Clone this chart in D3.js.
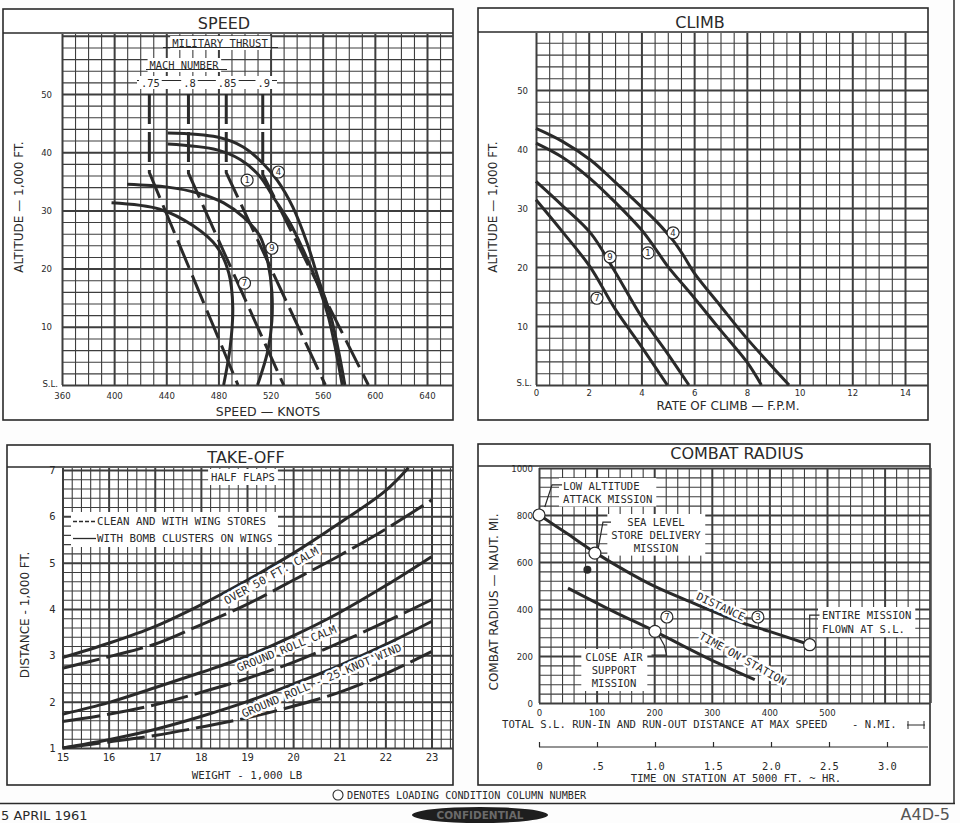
<!DOCTYPE html>
<html>
<head>
<meta charset="utf-8">
<script src="https://cdn.jsdelivr.net/npm/d3@7"></script>
<style>
  body { margin: 0; background: #fff; }
  svg { display: block; }
  .sans { font-family: "DejaVu Sans", sans-serif; }
  .cond { font-family: "DejaVu Sans Condensed", "DejaVu Sans", sans-serif; }
  .mono { font-family: "DejaVu Sans Mono", monospace; }
  .halo { paint-order: stroke; stroke: #fff; stroke-width: 5px; stroke-linejoin: round; }
</style>
</head>
<body>
<svg id="chart"></svg>
<script>
// ---- tick labels
var speedTicks = [360, 400, 440, 480, 520, 560, 600, 640];
var altTicks = [0, 10, 20, 30, 40, 50];
var climbTicks = [0, 2, 4, 6, 8, 10, 12, 14];
var weightTicks = [15, 16, 17, 18, 19, 20, 21, 22, 23];
var distTicks = [1, 2, 3, 4, 5, 6, 7];
var radiusTicks = [0, 200, 400, 600, 800, 1000];
var runTicks = [0, 100, 200, 300, 400, 500];
var timeTicks = [0, 0.5, 1, 1.5, 2, 2.5, 3];
var timeLabels = ["0", ".5", "1.0", "1.5", "2.0", "2.5", "3.0"];

// ---- SPEED: military thrust, [knots, 1000 ft]
var speedCond4 = [[441, 43.3], [479, 42.6], [499, 40.9], [514, 38.1], [525, 35.2], [537, 30.6], [548, 24.4], [557, 18], [566, 12], [572, 6], [577, 0]];
var speedCond1 = [[441, 41.4], [479, 40.4], [497, 38.7], [512, 35.8], [522, 32.3], [535, 27.8], [545, 23.2], [555, 18], [564, 12], [570, 6], [575, 0]];
var speedCond9 = [[410, 34.5], [441, 34], [464, 33], [484, 31.3], [499, 28.9], [512, 25.5], [518, 21], [521, 16], [521, 11], [518, 6], [513, 2], [510, 0]];
var speedCond7 = [[398, 31.3], [435, 30.2], [461, 27.3], [479, 23.7], [488, 19.2], [491, 13.4], [489, 6.5], [484, 0]];
// mach number lines: speed above tropopause, break altitude, speed at S.L.
var machNames = [".75", ".8", ".85", ".9"];
var machTopSpeed = [427, 457, 486, 514];
var machBreakAlt = [36.5, 36.4, 36.5, 36.2];
var machSLSpeed = [495, 530, 562, 595];
var machTopAlt = 50;
var speedLabels = [["1", 502, 35.2], ["4", 526, 36.6], ["9", 521, 23.5], ["7", 500, 17.5]];

// ---- CLIMB: [rate, 1000 ft]
var climb4 = [[0, 43.5], [1, 41.3], [2.08, 38.1], [3, 34.4], [4, 30.2], [4.7, 27.1], [5.2, 24.5], [5.6, 21.9], [6, 19.0], [7, 13.4], [8, 7.9], [9.6, 0]];
var climb1 = [[0, 41], [1, 38.6], [2, 35.2], [3, 31], [4, 26.3], [4.5, 23.3], [5, 20.1], [6, 14.8], [7, 9.3], [8, 3.9], [8.55, 0]];
var climb9 = [[0, 34.5], [1, 30.4], [2.08, 25.7], [2.96, 19.5], [4, 11.6], [4.98, 5.4], [5.8, 0]];
var climb7 = [[0, 31.4], [1, 26], [2.04, 20.1], [3, 12.9], [4, 6.5], [4.98, 0]];
var climbLabels = [["4", 5.2, 25.8], ["1", 4.25, 22.4], ["9", 2.81, 21.7], ["7", 2.31, 14.7]];

// ---- TAKE-OFF: [weight 1000 lb, distance 1000 ft]
var over50Bombs = [[15, 2.95], [16, 3.26], [17, 3.62], [18, 4.09], [19, 4.62], [20, 5.2], [21, 5.85], [22, 6.55], [22.5, 7.05]];
var over50Clean = [[15, 2.72], [16, 2.97], [17, 3.24], [18, 3.66], [19, 4.1], [20, 4.62], [21, 5.15], [22, 5.72], [23, 6.35]];
var rollCalmBombs = [[15, 1.73], [16, 1.98], [17, 2.3], [18, 2.63], [19, 2.98], [20, 3.42], [21, 3.92], [22, 4.5], [23, 5.13]];
var rollCalmClean = [[15, 1.57], [16, 1.73], [17, 1.93], [18, 2.2], [19, 2.5], [20, 2.85], [21, 3.27], [22, 3.72], [23, 4.2]];
var roll25Bombs = [[15, 1.0], [16, 1.18], [17, 1.4], [18, 1.68], [19, 2.0], [20, 2.38], [21, 2.78], [22, 3.23], [23, 3.73]];
var roll25Clean = [[15, 1.0], [16, 1.13], [17, 1.27], [18, 1.45], [19, 1.65], [20, 1.9], [21, 2.2], [22, 2.6], [23, 3.08]];

// ---- COMBAT RADIUS
var radiusDistance = [[0, 801], [47.5, 723], [97, 641], [152, 560], [201, 496], [267, 426], [354, 340], [400, 305], [470, 248]];
var radiusTime = [[0.25, 489], [0.64, 390], [1.0, 305], [1.25, 241], [1.51, 177], [1.86, 99]];
var missionPoints = [[0, 800], [97, 638], [470, 248]];
var closeAirPoint = [1.0, 305];
var extraPoint = [84, 567];

var W = 960, H = 823;
var ink = "#2a2a2a", gridInk = "#3e3e3e";

var svg = d3.select("#chart").attr("width", W).attr("height", H);
svg.append("rect").attr("width", W).attr("height", H).attr("fill", "#fdfdfd");

// ---- helpers
function frame(b, barY, title, tx, ty) {
  svg.append("rect")
    .attr("x", b[0]).attr("y", b[1])
    .attr("width", b[2] - b[0]).attr("height", b[3] - b[1])
    .attr("fill", "#fff").attr("stroke", ink).attr("stroke-width", 1.6);
  svg.append("line")
    .attr("x1", b[0]).attr("x2", b[2]).attr("y1", barY).attr("y2", barY)
    .attr("stroke", ink).attr("stroke-width", 1.6);
  svg.append("text").attr("class", "sans")
    .attr("x", tx).attr("y", ty)
    .attr("text-anchor", "middle").attr("font-size", 16).attr("fill", ink)
    .text(title);
}

function isMult(d, m) {
  var r = d / m;
  return Math.abs(r - Math.round(r)) < 1e-6;
}

function grid(x, y, xs, ys, xMaj, yMaj, left, right, top, bottom) {
  var g = svg.append("g");
  g.append("g")
    .attr("transform", "translate(0," + top + ")")
    .call(d3.axisBottom(x).tickValues(xs).tickSize(bottom - top).tickFormat(""))
    .call(function(s) { s.select(".domain").remove(); })
    .selectAll("line")
    .attr("stroke", gridInk)
    .attr("stroke-width", function(d) { return isMult(d, xMaj) ? 2 : 1.1; });
  g.append("g")
    .attr("transform", "translate(" + left + ",0)")
    .call(d3.axisRight(y).tickValues(ys).tickSize(right - left).tickFormat(""))
    .call(function(s) { s.select(".domain").remove(); })
    .selectAll("line")
    .attr("stroke", gridInk)
    .attr("stroke-width", function(d) { return isMult(d, yMaj) ? 2 : 1.1; });
  return g;
}

function tickRow(axis, tx, ty, cls, size) {
  var g = svg.append("g")
    .attr("transform", "translate(" + tx + "," + ty + ")")
    .call(axis.tickSize(0))
    .call(function(s) { s.select(".domain").remove(); s.selectAll("line").remove(); })
    .attr("font-family", null).attr("font-size", null)
    .attr("class", cls).style("font-size", size + "px");
  g.selectAll("text").attr("fill", ink);
  return g;
}

function curve(pts, x, y, dash, width, kind) {
  var line = d3.line()
    .x(function(d) { return x(d[0]); })
    .y(function(d) { return y(d[1]); })
    .curve(kind || d3.curveCatmullRom.alpha(0.5));
  svg.append("path")
    .datum(pts)
    .attr("d", line)
    .attr("fill", "none")
    .attr("stroke", ink)
    .attr("stroke-width", width || 3)
    .attr("stroke-linecap", "butt")
    .attr("stroke-dasharray", dash || null);
}

function circNum(cx, cy, n, r) {
  svg.append("circle").attr("cx", cx).attr("cy", cy).attr("r", r || 6)
    .attr("fill", "#fff").attr("stroke", ink).attr("stroke-width", 1.2);
  if (n) {
    svg.append("text").attr("class", "sans")
      .attr("x", cx).attr("y", cy).attr("dy", "0.36em")
      .attr("text-anchor", "middle").attr("font-size", 8.5).attr("fill", ink)
      .text(n);
  }
}

function whiteBack(sel, padX, padY) {
  var node = sel.node(), b = node.getBBox();
  d3.select(node.parentNode).insert("rect", function() { return node; })
    .attr("x", b.x - padX).attr("y", b.y - padY)
    .attr("width", b.width + 2 * padX).attr("height", b.height + 2 * padY)
    .attr("fill", "#fff");
}

function label(x, y, txt, cls, size, anchor, rot) {
  var t = svg.append("text").attr("class", cls)
    .attr("x", x).attr("y", y)
    .attr("font-size", size).attr("fill", ink)
    .attr("text-anchor", anchor || "middle")
    .text(txt);
  if (rot) t.attr("transform", "rotate(" + rot + "," + x + "," + y + ")");
  return t;
}

var fmtInt = d3.format("d");

// =================== SPEED ===================
frame([3, 9, 453, 420], 33, "SPEED", 224, 29);
var sx = d3.scaleLinear().domain([360, 640]).range([62, 427]);
var sy = d3.scaleLinear().domain([0, 50]).range([385, 94]);
grid(sx, sy, d3.range(360, 651, 10), d3.range(0, 61, 2), 40, 10, 62, 453, 34, 385);

// header labels with white backing
var mt = label(220, 47, "MILITARY THRUST", "mono", 10.6);
whiteBack(mt, 2, 1);
svg.append("line").attr("x1", 163).attr("x2", 278).attr("y1", 47.5).attr("y2", 47.5).attr("stroke", ink).attr("stroke-width", 1.2);
mt.raise();
var mn = label(184, 69, "MACH NUMBER", "mono", 10.4);
whiteBack(mn, 2, 1);
svg.append("line").attr("x1", 146).attr("x2", 227).attr("y1", 69.5).attr("y2", 69.5).attr("stroke", ink).attr("stroke-width", 1.2);
mn.raise();
svg.append("rect").attr("x", 137).attr("y", 76).attr("width", 140).attr("height", 13).attr("fill", "#fff");
svg.append("line").attr("x1", 137).attr("x2", 277).attr("y1", 80.5).attr("y2", 80.5).attr("stroke", ink).attr("stroke-width", 1.2);
machNames.forEach(function(m, i) {
  var t = label(sx(machTopSpeed[i]) + 1, 87, m, "mono", 10.4);
  whiteBack(t, 2, 0);
});

// mach lines
machNames.forEach(function(m, i) {
  curve([[machTopSpeed[i], machTopAlt], [machTopSpeed[i], machBreakAlt[i]], [machSLSpeed[i], 0]],
        sx, sy, "30,8", 3, d3.curveLinear);
});
curve(speedCond7, sx, sy, null, 3);
curve(speedCond9, sx, sy, null, 3);
curve(speedCond1, sx, sy, null, 3);
curve(speedCond4, sx, sy, null, 3);
speedLabels.forEach(function(d) { circNum(sx(d[1]), sy(d[2]), d[0]); });

tickRow(d3.axisBottom(sx).tickValues(speedTicks).tickPadding(7).tickFormat(fmtInt), 0, 385, "cond", 9.5);
var sty = tickRow(d3.axisLeft(sy).tickValues(altTicks).tickPadding(10)
  .tickFormat(function(d) { return d === 0 ? "S.L." : d; }), 62, 0, "cond", 9.5);
sty.selectAll("text").filter(function(d) { return d === 0; }).attr("dx", 6).attr("dy", "0.2em");
label(268, 416, "SPEED \u2014 KNOTS", "sans", 12.5);
label(23, 207, "ALTITUDE \u2014 1,000 FT.", "sans", 12, "middle", -90);

// =================== CLIMB ===================
frame([478, 8, 928, 420], 32, "CLIMB", 700, 28);
var cx = d3.scaleLinear().domain([0, 14]).range([536, 905]);
var cy = d3.scaleLinear().domain([0, 50]).range([385, 90]);
grid(cx, cy, d3.range(0, 29).map(function(i) { return i * 0.5; }), d3.range(0, 59, 2), 2, 10, 536, 928, 33, 385);
curve(climb7, cx, cy, null, 3);
curve(climb9, cx, cy, null, 3);
curve(climb1, cx, cy, null, 3);
curve(climb4, cx, cy, null, 3);
climbLabels.forEach(function(d) { circNum(cx(d[1]), cy(d[2]), d[0]); });
tickRow(d3.axisBottom(cx).tickValues(climbTicks).tickPadding(4).tickFormat(fmtInt), 0, 385, "cond", 9.5);
var cty = tickRow(d3.axisLeft(cy).tickValues(altTicks).tickPadding(8)
  .tickFormat(function(d) { return d === 0 ? "S.L." : d; }), 536, 0, "cond", 9.5);
cty.selectAll("text").filter(function(d) { return d === 0; }).attr("dx", 4).attr("dy", "0.1em");
label(728, 410, "RATE OF CLIMB \u2014 F.P.M.", "sans", 12);
label(497, 207, "ALTITUDE \u2014 1,000 FT.", "sans", 12, "middle", -90);

// =================== TAKE-OFF ===================
frame([7, 445, 453, 785], 467, "TAKE-OFF", 246, 463);
var tx = d3.scaleLinear().domain([15, 23]).range([62.5, 431.5]);
var ty = d3.scaleLinear().domain([1, 7]).range([748, 470]);
grid(tx, ty, d3.range(0, 43).map(function(i) { return 15 + i * 0.2; }),
     d3.range(0, 31).map(function(i) { return 1 + i * 0.2; }), 1, 1, 62.5, 453, 468, 748);

var hf = label(243, 481, "HALF FLAPS", "mono", 10.6);
whiteBack(hf, 3, 2);
svg.append("line").attr("x1", 205).attr("x2", 282).attr("y1", 477).attr("y2", 477).attr("stroke", ink).attr("stroke-width", 1.2).lower();
hf.raise();
svg.append("rect").attr("x", 71).attr("y", 512).attr("width", 207).attr("height", 35).attr("fill", "#fff");
svg.append("line").attr("x1", 73).attr("x2", 96).attr("y1", 521.5).attr("y2", 521.5).attr("stroke", ink).attr("stroke-width", 1.3).attr("stroke-dasharray", "4,2");
svg.append("line").attr("x1", 73).attr("x2", 96).attr("y1", 538.5).attr("y2", 538.5).attr("stroke", ink).attr("stroke-width", 1.3);
label(97, 525, "CLEAN AND WITH WING STORES", "mono", 10.8, "start");
label(97, 542, "WITH BOMB CLUSTERS ON WINGS", "mono", 10.8, "start");

curve(over50Bombs, tx, ty, null, 3);
curve(over50Clean, tx, ty, "38,7", 3);
curve(rollCalmBombs, tx, ty, null, 3);
curve(rollCalmClean, tx, ty, "38,7", 3);
curve(roll25Bombs, tx, ty, null, 3);
curve(roll25Clean, tx, ty, "38,7", 3);

label(273, 579, "OVER 50 FT. CALM", "mono halo", 11, "middle", -29);
label(288, 652, "GROUND ROLL CALM", "mono halo", 11, "middle", -22);
label(323, 684, "GROUND ROLL - 25 KNOT WIND", "mono halo", 11, "middle", -23);

tickRow(d3.axisBottom(tx).tickValues(weightTicks).tickPadding(6).tickFormat(fmtInt), 0, 748, "mono", 10.5);
tickRow(d3.axisLeft(ty).tickValues(distTicks).tickPadding(7).tickFormat(fmtInt), 62.5, 0, "mono", 10.5);
label(247, 779, "WEIGHT - 1,000 LB", "mono", 10.8);
label(29, 615, "DISTANCE - 1,000 FT.", "sans", 12, "middle", -90);

// =================== COMBAT RADIUS ===================
frame([478, 444, 930, 785], 466, "COMBAT RADIUS", 737, 459);
var rx = d3.scaleLinear().domain([0, 500]).range([539, 827]);
var ry = d3.scaleLinear().domain([0, 1000]).range([703, 468]);
var hx = d3.scaleLinear().domain([0, 3]).range([539, 887]);
grid(rx, ry, d3.range(0, 681, 20), d3.range(0, 1001, 40), 100, 200, 539, 930, 468, 703);

// annotation boxes
function noteBlock(lines, x, y0, step, anchor) {
  var g = svg.append("g");
  lines.forEach(function(s, i) {
    g.append("text").attr("class", "mono").attr("x", x).attr("y", y0 + i * step)
      .attr("font-size", 10.6).attr("fill", ink).attr("text-anchor", anchor || "middle").text(s);
  });
  var b = g.node().getBBox();
  g.insert("rect", "text").attr("x", b.x - 4).attr("y", b.y - 2)
    .attr("width", b.width + 8).attr("height", b.height + 4).attr("fill", "#fff");
  return g;
}
function leader(pts, xs) {
  svg.append("path")
    .datum(pts)
    .attr("d", d3.line().x(function(d) { return (xs || rx)(d[0]); }).y(function(d) { return ry(d[1]); }))
    .attr("fill", "none").attr("stroke", ink).attr("stroke-width", 1.2);
}
noteBlock(["LOW ALTITUDE", "ATTACK MISSION"], 563, 490, 12.5, "start");
leader([[10, 834], [22.6, 928], [40, 928]]);
noteBlock(["SEA LEVEL", "STORE DELIVERY", "MISSION"], 656, 526, 12.8);
leader([[103, 660], [111, 770], [125, 770]]);
noteBlock(["ENTIRE MISSION", "FLOWN AT S.L."], 822, 619, 14, "start");
leader([[470, 262], [470, 374], [487, 374]]);
noteBlock(["CLOSE AIR", "SUPPORT", "MISSION"], 614, 661, 13);
leader([[1.03, 290], [1.08, 245], [1.1, 204], [0.97, 204]], hx);

curve(radiusDistance, rx, ry, null, 3);
curve(radiusTime, hx, ry, null, 3);
missionPoints.forEach(function(d) { circNum(rx(d[0]), ry(d[1]), null, 6); });
circNum(hx(closeAirPoint[0]), ry(closeAirPoint[1]), null, 6);
svg.append("circle").attr("cx", rx(extraPoint[0])).attr("cy", ry(extraPoint[1])).attr("r", 4).attr("fill", ink);
circNum(rx(222), ry(366), "7", 6);
label(719, 610, "DISTANCE", "mono halo", 10.8, "middle", 25);
svg.append("line").attr("x1", 744).attr("x2", 751).attr("y1", 618).attr("y2", 618).attr("stroke", ink).attr("stroke-width", 1.2);
circNum(rx(380), ry(366), "3", 6);
label(741, 662, "TIME ON STATION", "mono halo", 10.8, "middle", 29);

tickRow(d3.axisBottom(rx).tickValues(runTicks).tickPadding(6).tickFormat(fmtInt), 0, 703, "cond", 9.5);
tickRow(d3.axisLeft(ry).tickValues(radiusTicks).tickPadding(6).tickFormat(fmtInt), 539, 0, "cond", 9.5);
label(502, 728, "TOTAL S.L. RUN-IN AND RUN-OUT DISTANCE AT MAX SPEED", "mono", 10.6, "start");
label(852, 728, "- N.MI.", "mono", 10.6, "start");
svg.append("path").attr("d", "M907,725H925M908,721V729M924,721V729").attr("stroke", ink).attr("stroke-width", 1).attr("fill", "none");

// time-on-station scale
svg.append("g").attr("transform", "translate(0,747)")
  .call(d3.axisTop(hx).tickValues(timeTicks).tickSize(5).tickFormat(""))
  .call(function(s) { s.select(".domain").attr("d", "M539,0H928"); })
  .selectAll("path,line").attr("stroke", ink).attr("stroke-width", 1.2);
tickRow(d3.axisBottom(hx).tickValues(timeTicks).tickPadding(16)
  .tickFormat(function(d, i) { return timeLabels[i]; }), 0, 747, "mono", 10.4);
label(736, 782, "TIME ON STATION AT 5000 FT. ~ HR.", "mono", 10.6);
label(498, 602, "COMBAT RADIUS \u2014 NAUT. MI.", "sans", 12, "middle", -90);

// =================== page footer ===================
svg.append("circle").attr("cx", 338).attr("cy", 795).attr("r", 5).attr("fill", "none").attr("stroke", ink).attr("stroke-width", 1.1);
label(347, 799, "DENOTES LOADING CONDITION COLUMN NUMBER", "mono", 10.2, "start");
svg.append("line").attr("x1", 0).attr("x2", 955).attr("y1", 803.5).attr("y2", 803.5).attr("stroke", ink).attr("stroke-width", 1.5);
svg.append("line").attr("x1", 954).attr("x2", 954).attr("y1", 0).attr("y2", 804).attr("stroke", ink).attr("stroke-width", 1.5);
label(1, 820, "5 APRIL 1961", "sans", 13, "start");
label(950, 820, "A4D-5", "sans", 16, "end").attr("fill", "#555");
svg.append("ellipse").attr("cx", 480).attr("cy", 815).attr("rx", 68).attr("ry", 8).attr("fill", "#1e1e1e");
label(480, 819, "CONFIDENTIAL", "sans", 10.5, "middle").attr("fill", "#6a6a6a").attr("font-weight", "bold");
</script>
</body>
</html>
